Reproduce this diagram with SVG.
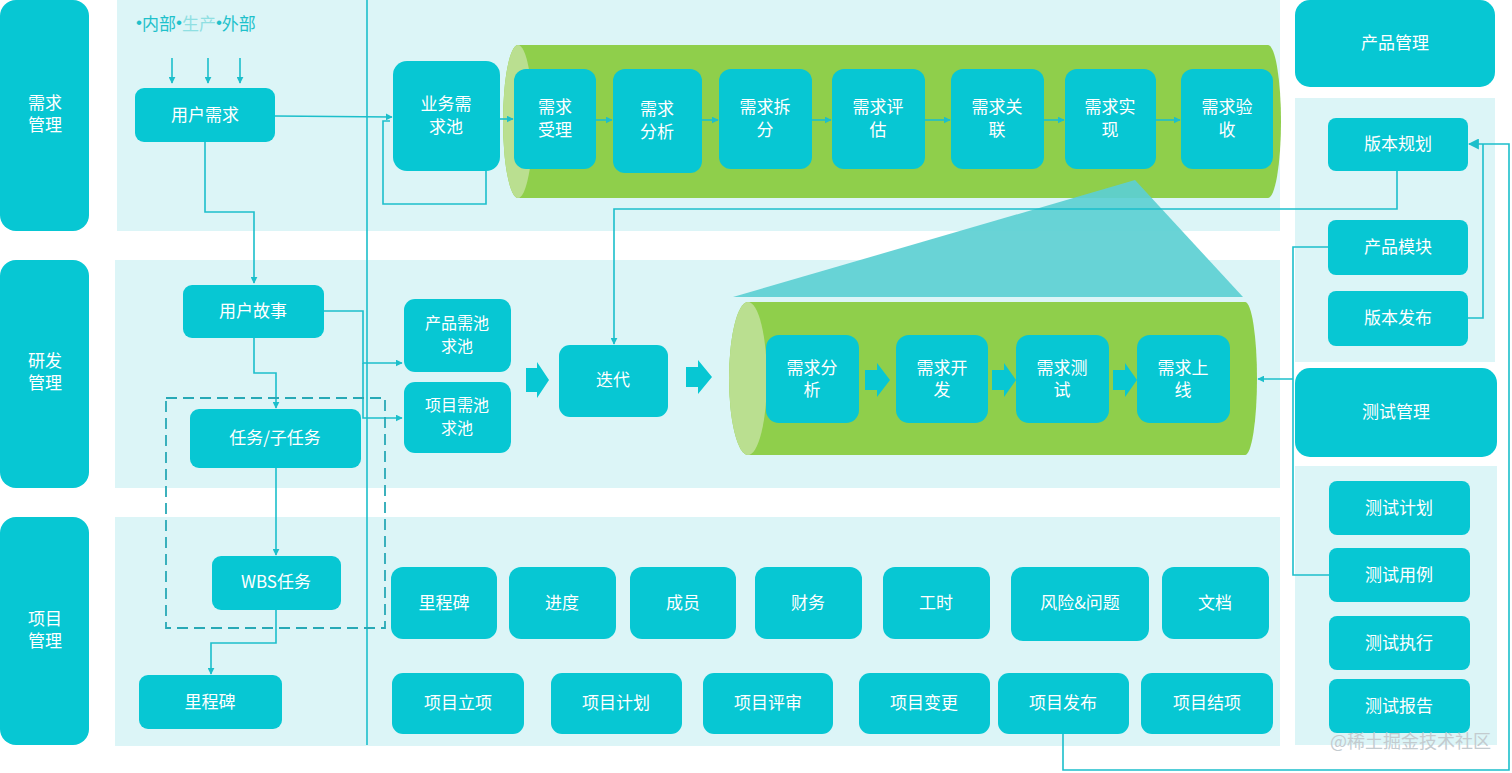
<svg xmlns="http://www.w3.org/2000/svg" width="1512" height="773" viewBox="0 0 1512 773">
<defs>
<style>
.lbl{fill:#07c7d3}
.band{fill:#dcf5f7}
.n{fill:#07c7d3}
.t{font-family:"Noto Sans CJK SC","Noto Sans",sans-serif;font-size:17px;fill:#ffffff;text-anchor:middle;dominant-baseline:central;transform:translateY(-2px)}
.s{font-size:16px}
.ln{fill:none;stroke:#1cbfcb;stroke-width:1.6}
.fat{fill:#07c7d3}
</style>
<marker id="ah" viewBox="0 0 10 10" refX="9" refY="5" markerWidth="7" markerHeight="7" orient="auto" markerUnits="userSpaceOnUse">
<path d="M0,0 L10,5 L0,10 Z" fill="#1cbfcb"/>
</marker>
<marker id="ah2" viewBox="0 0 10 10" refX="9" refY="5" markerWidth="11" markerHeight="11" orient="auto" markerUnits="userSpaceOnUse">
<path d="M0,0 L10,5 L0,10 Z" fill="#1cbfcb"/>
</marker>
</defs>
<rect width="1512" height="773" fill="#ffffff"/>

<g id="bands">
<rect class="band" x="117" y="0" width="1163" height="231"/>
<rect class="band" x="115" y="260" width="1165" height="228"/>
<rect class="band" x="115" y="517" width="1165" height="229"/>
<rect class="band" x="1295" y="98" width="200" height="264"/>
<rect class="band" x="1295" y="466" width="202" height="279"/>
</g>

<g id="lane-labels">
<g id="lbl-req"><rect class="lbl" x="0" y="0" width="89" height="231" rx="16"/><text class="t" x="45" y="103">需求</text><text class="t" x="45" y="125">管理</text></g>
<g id="lbl-dev"><rect class="lbl" x="0" y="260" width="89" height="228" rx="16"/><text class="t" x="45" y="361">研发</text><text class="t" x="45" y="383">管理</text></g>
<g id="lbl-proj"><rect class="lbl" x="0" y="517" width="89" height="228" rx="16"/><text class="t" x="45" y="619">项目</text><text class="t" x="45" y="641">管理</text></g>
</g>

<text x="136" y="22" font-family="Noto Sans CJK SC, sans-serif" font-size="17" fill="#1fc1cb" dominant-baseline="central"><tspan font-family="Liberation Sans, sans-serif">•</tspan>内部<tspan font-family="Liberation Sans, sans-serif">•</tspan><tspan fill="#8fdfe2">生产</tspan><tspan font-family="Liberation Sans, sans-serif">•</tspan>外部</text>

<g id="cylinders">
<path d="M518,45 H1268 A13,76.5 0 0 1 1268,198 H518 A15,76.5 0 0 1 518,45 Z" fill="#8fcf4b"/>
<ellipse cx="518" cy="121.5" rx="15" ry="76.5" fill="#badf90"/>
<path d="M748,302 H1245 A12,76.5 0 0 1 1245,455 H748 A19,76.5 0 0 1 748,302 Z" fill="#8fcf4b"/>
<ellipse cx="748" cy="378.5" rx="19" ry="76.5" fill="#badf90"/>
</g>

<polygon points="1135,180 733,297 1243,297" fill="#5ccfd3" opacity="0.92"/>

<g id="connectors">
<line class="ln" x1="367" y1="0" x2="367" y2="745"/>
<line class="ln" x1="172" y1="58" x2="172" y2="83" marker-end="url(#ah)"/>
<line class="ln" x1="208" y1="58" x2="208" y2="83" marker-end="url(#ah)"/>
<line class="ln" x1="240" y1="58" x2="240" y2="83" marker-end="url(#ah)"/>
<polyline class="ln" points="275,116 392,117" marker-end="url(#ah)"/>
<polyline class="ln" points="486,171 486,204 383,204 383,121 390,121"/>
<line class="ln" x1="500" y1="119" x2="513" y2="119" marker-end="url(#ah)"/>
<line class="ln" x1="596" y1="120" x2="612" y2="120" marker-end="url(#ah)"/>
<line class="ln" x1="702" y1="120" x2="718" y2="120" marker-end="url(#ah)"/>
<line class="ln" x1="812" y1="120" x2="831" y2="120" marker-end="url(#ah)"/>
<line class="ln" x1="925" y1="120" x2="950" y2="120" marker-end="url(#ah)"/>
<line class="ln" x1="1044" y1="120" x2="1064" y2="120" marker-end="url(#ah)"/>
<line class="ln" x1="1156" y1="120" x2="1180" y2="120" marker-end="url(#ah)"/>
<polyline class="ln" points="205,142 205,212 254,212 254,283" marker-end="url(#ah)"/>
<polyline class="ln" points="324,311 363,311 363,363 402,363" marker-end="url(#ah)"/>
<polyline class="ln" points="363,363 363,418 402,418" marker-end="url(#ah)"/>
<polyline class="ln" points="254,338 254,373 276,373 276,408" marker-end="url(#ah)"/>
<polyline class="ln" points="276,468 276,555" marker-end="url(#ah)"/>
<polyline class="ln" points="276,610 276,643 211,643 211,674" marker-end="url(#ah)"/>
<polyline class="ln" points="1397,171 1397,209 614,209 614,344" marker-end="url(#ah)"/>
<polyline class="ln" points="1328,247 1293,247 1293,575 1330,575"/>
<polyline class="ln" points="1293,379 1258,379" marker-end="url(#ah)"/>
<polyline class="ln" points="1468,318 1483,318 1483,144"/>
<polyline class="ln" points="1063,734 1063,770 1509,770 1509,144 1469,144" marker-end="url(#ah2)"/>
<rect x="166" y="398" width="219" height="230" fill="none" stroke="#28a9b6" stroke-width="1.8" stroke-dasharray="11,6"/>
<polygon class="fat" points="526,368 537,368 537,362 549,380 537,398 537,392 526,392"/>
<polygon class="fat" points="686,367 698,367 698,360 712,377 698,394 698,387 686,387"/>
<polygon class="fat" points="865,370 877,370 877,363 890,380 877,397 877,390 865,390"/>
<polygon class="fat" points="992,370 1004,370 1004,363 1016,380 1004,397 1004,390 992,390"/>
<polygon class="fat" points="1113,370 1125,370 1125,363 1137,380 1125,397 1125,390 1113,390"/>
</g>

<g id="n-user-req"><rect class="n" x="135" y="88" width="140" height="54" rx="9"/><text class="t" x="205" y="115">用户需求</text></g>
<g id="n-biz-pool"><rect class="n" x="393" y="61" width="107" height="110" rx="14"/><text class="t" x="446" y="104">业务需</text><text class="t" x="446" y="127">求池</text></g>

<g id="n-r1"><rect class="n" x="514" y="69" width="82" height="100" rx="12"/><text class="t" x="555" y="107">需求</text><text class="t" x="555" y="130">受理</text></g>
<g id="n-r2"><rect class="n" x="613" y="69" width="89" height="104" rx="12"/><text class="t" x="657" y="109">需求</text><text class="t" x="657" y="132">分析</text></g>
<g id="n-r3"><rect class="n" x="719" y="69" width="93" height="100" rx="12"/><text class="t" x="765" y="107">需求拆</text><text class="t" x="765" y="130">分</text></g>
<g id="n-r4"><rect class="n" x="832" y="69" width="93" height="100" rx="12"/><text class="t" x="878" y="107">需求评</text><text class="t" x="878" y="130">估</text></g>
<g id="n-r5"><rect class="n" x="951" y="69" width="93" height="100" rx="12"/><text class="t" x="997" y="107">需求关</text><text class="t" x="997" y="130">联</text></g>
<g id="n-r6"><rect class="n" x="1065" y="69" width="91" height="100" rx="12"/><text class="t" x="1110" y="107">需求实</text><text class="t" x="1110" y="130">现</text></g>
<g id="n-r7"><rect class="n" x="1181" y="69" width="92" height="100" rx="12"/><text class="t" x="1227" y="107">需求验</text><text class="t" x="1227" y="130">收</text></g>

<g id="n-story"><rect class="n" x="183" y="285" width="141" height="53" rx="9"/><text class="t" x="253" y="311">用户故事</text></g>
<g id="n-task"><rect class="n" x="190" y="409" width="171" height="59" rx="9"/><text class="t" x="275" y="438">任务/子任务</text></g>
<g id="n-wbs"><rect class="n" x="212" y="556" width="129" height="54" rx="9"/><text class="t" x="276" y="582">WBS任务</text></g>
<g id="n-ms-left"><rect class="n" x="139" y="675" width="143" height="54" rx="9"/><text class="t" x="210" y="702">里程碑</text></g>

<g id="n-prod-pool"><rect class="n" x="404" y="299" width="107" height="73" rx="11"/><text class="t s" x="457" y="324">产品需池</text><text class="t s" x="457" y="347">求池</text></g>
<g id="n-proj-pool"><rect class="n" x="404" y="382" width="107" height="71" rx="11"/><text class="t s" x="457" y="406">项目需池</text><text class="t s" x="457" y="429">求池</text></g>
<g id="n-iter"><rect class="n" x="559" y="345" width="109" height="72" rx="11"/><text class="t" x="613" y="380">迭代</text></g>

<g id="n-d1"><rect class="n" x="766" y="335" width="93" height="88" rx="13"/><text class="t" x="812" y="368">需求分</text><text class="t" x="812" y="390">析</text></g>
<g id="n-d2"><rect class="n" x="896" y="335" width="92" height="88" rx="13"/><text class="t" x="942" y="368">需求开</text><text class="t" x="942" y="390">发</text></g>
<g id="n-d3"><rect class="n" x="1016" y="335" width="93" height="88" rx="13"/><text class="t" x="1062" y="368">需求测</text><text class="t" x="1062" y="390">试</text></g>
<g id="n-d4"><rect class="n" x="1137" y="335" width="93" height="88" rx="13"/><text class="t" x="1183" y="368">需求上</text><text class="t" x="1183" y="390">线</text></g>

<g id="n-p1"><rect class="n" x="391" y="567" width="106" height="72" rx="12"/><text class="t" x="444" y="603">里程碑</text></g>
<g id="n-p2"><rect class="n" x="509" y="567" width="107" height="72" rx="12"/><text class="t" x="562" y="603">进度</text></g>
<g id="n-p3"><rect class="n" x="630" y="567" width="106" height="72" rx="12"/><text class="t" x="683" y="603">成员</text></g>
<g id="n-p4"><rect class="n" x="755" y="567" width="107" height="72" rx="12"/><text class="t" x="808" y="603">财务</text></g>
<g id="n-p5"><rect class="n" x="883" y="567" width="107" height="72" rx="12"/><text class="t" x="936" y="603">工时</text></g>
<g id="n-p6"><rect class="n" x="1011" y="567" width="138" height="74" rx="12"/><text class="t" x="1080" y="603">风险&amp;问题</text></g>
<g id="n-p7"><rect class="n" x="1162" y="567" width="107" height="72" rx="12"/><text class="t" x="1215" y="603">文档</text></g>

<g id="n-q1"><rect class="n" x="392" y="673" width="132" height="61" rx="11"/><text class="t" x="458" y="703">项目立项</text></g>
<g id="n-q2"><rect class="n" x="551" y="673" width="131" height="61" rx="11"/><text class="t" x="616" y="703">项目计划</text></g>
<g id="n-q3"><rect class="n" x="703" y="673" width="130" height="61" rx="11"/><text class="t" x="768" y="703">项目评审</text></g>
<g id="n-q4"><rect class="n" x="859" y="673" width="131" height="61" rx="11"/><text class="t" x="924" y="703">项目变更</text></g>
<g id="n-q5"><rect class="n" x="998" y="673" width="131" height="61" rx="11"/><text class="t" x="1063" y="703">项目发布</text></g>
<g id="n-q6"><rect class="n" x="1141" y="673" width="132" height="61" rx="11"/><text class="t" x="1207" y="703">项目结项</text></g>

<g id="n-pm"><rect class="n" x="1295" y="0" width="200" height="87" rx="15"/><text class="t" x="1395" y="43">产品管理</text></g>
<g id="n-vp"><rect class="n" x="1328" y="118" width="140" height="53" rx="8"/><text class="t" x="1398" y="144">版本规划</text></g>
<g id="n-mod"><rect class="n" x="1328" y="220" width="140" height="55" rx="8"/><text class="t" x="1398" y="247">产品模块</text></g>
<g id="n-rel"><rect class="n" x="1328" y="291" width="140" height="55" rx="8"/><text class="t" x="1398" y="318">版本发布</text></g>
<g id="n-tm"><rect class="n" x="1295" y="368" width="202" height="89" rx="15"/><text class="t" x="1396" y="412">测试管理</text></g>
<g id="n-t1"><rect class="n" x="1329" y="481" width="141" height="54" rx="8"/><text class="t" x="1399" y="508">测试计划</text></g>
<g id="n-t2"><rect class="n" x="1329" y="548" width="141" height="54" rx="8"/><text class="t" x="1399" y="575">测试用例</text></g>
<g id="n-t3"><rect class="n" x="1329" y="616" width="141" height="54" rx="8"/><text class="t" x="1399" y="643">测试执行</text></g>
<g id="n-t4"><rect class="n" x="1329" y="679" width="141" height="54" rx="8"/><text class="t" x="1399" y="706">测试报告</text></g>

<text x="1330" y="740" font-family="Noto Sans CJK SC, sans-serif" font-size="18" fill="#c3cbcf" dominant-baseline="central">@稀土掘金技术社区</text>
</svg>
